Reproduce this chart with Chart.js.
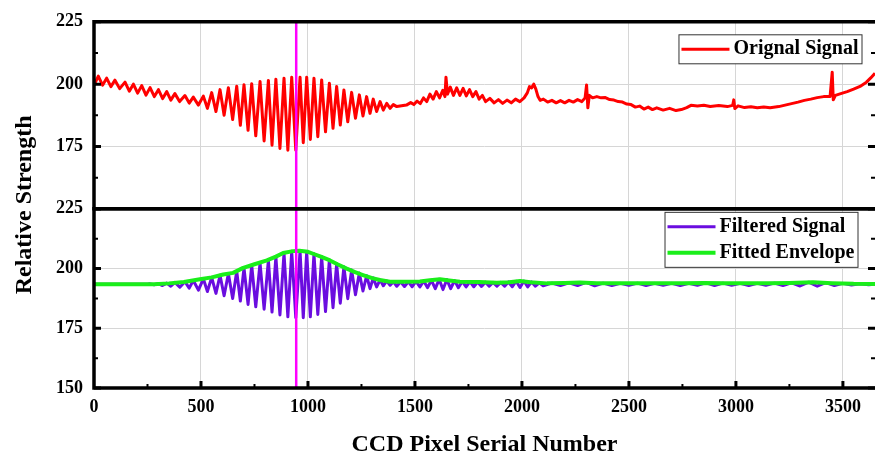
<!DOCTYPE html>
<html>
<head>
<meta charset="utf-8">
<script src="https://cdn.jsdelivr.net/npm/chart.js@4.4.1/dist/chart.umd.min.js"></script>
<style>
	html, body { margin: 0; padding: 0; background: #fff; }
</style>
</head>
<body>
<canvas id="signalChart" width="875" height="455"></canvas>
<script>
var FONT = '"Times New Roman", "Liberation Serif", serif';

// pixel serial number / relative strength
var originalX = [0, 20, 40, 59, 79, 98, 120, 145, 165, 184, 204, 223, 243, 262, 282, 301, 321, 340, 359, 378,
	400, 425, 445, 464, 488, 511, 530, 550, 570, 589, 608, 628, 648, 667, 684, 701, 720, 737, 756, 776,
	795, 815, 832, 850, 869, 888, 906, 924, 943, 963, 978, 994, 1011, 1028, 1046, 1064, 1082, 1100, 1117, 1134,
	1151, 1168, 1186, 1204, 1222, 1240, 1257, 1274, 1290, 1305, 1321, 1337, 1352, 1368, 1384, 1399, 1415,
	1430, 1460, 1480, 1495, 1510, 1525, 1540, 1555, 1570, 1585, 1600, 1615, 1630, 1640, 1645, 1652, 1665, 1680, 1695,
	1710, 1725, 1740, 1755, 1770, 1785, 1800, 1815, 1830, 1850, 1870, 1890, 1910, 1930, 1950, 1970, 1990, 2010, 2025,
	2035, 2045, 2055, 2065, 2075, 2085, 2100, 2120, 2140, 2160, 2180, 2200, 2220, 2240, 2260, 2280, 2295, 2302, 2308,
	2315, 2330, 2350, 2370, 2390, 2410, 2430, 2450, 2470, 2490, 2510, 2530, 2550, 2570, 2590, 2610, 2630, 2660, 2690,
	2720, 2745, 2770, 2790, 2820, 2850, 2880, 2920, 2960, 2985, 2990, 2995, 3010, 3040, 3070, 3100, 3130, 3160, 3200,
	3230, 3260, 3290, 3320, 3350, 3380, 3410, 3440, 3450, 3455, 3465, 3490, 3520, 3550, 3580, 3610, 3630, 3650];
var originalY = [199.5, 203.2, 199.6, 202.4, 199.0, 201.6, 198.2, 200.8, 197.2, 200.0, 196.4, 199.4, 195.6, 198.6, 195.0, 197.8, 194.2, 197.0, 193.6, 196.2,
	193.0, 195.4, 192.4, 194.8, 191.6, 195.2, 190.3, 196.6, 189.0, 197.8, 187.5, 198.6, 185.8, 199.2, 183.5, 199.8, 181.5, 200.2, 179.3, 201.1,
	177.2, 201.5, 175.5, 202.0, 174.2, 202.4, 173.5, 202.8, 173.5, 202.8, 176.5, 202.8, 177.8, 202.4, 178.9, 201.7, 180.9, 200.4, 182.3, 199.1,
	183.6, 197.7, 184.9, 196.7, 186.3, 195.7, 187.2, 195.0, 188.3, 194.0, 189.0, 193.0, 189.6, 192.3, 190.3, 191.8, 191.0,
	191.2, 191.6, 192.6, 191.8, 193.2, 192.2, 194.5, 193.0, 196.0, 194.0, 197.0, 194.5, 197.5, 195.0, 202.8, 196.0, 198.8, 195.5, 198.5,
	195.5, 198.3, 195.3, 197.8, 195.0, 197.0, 194.0, 195.5, 193.0, 194.3, 192.5, 193.8, 192.3, 193.6, 192.5, 194.0, 193.0, 194.5, 196.5,
	199.0, 198.5, 200.0, 198.0, 195.0, 193.5, 194.0, 192.8, 193.5, 192.5, 193.4, 192.5, 193.5, 192.8, 193.8, 193.0, 194.5, 199.7, 190.5,
	195.5, 194.5, 195.0, 194.5, 194.6, 193.8, 193.6, 193.0, 192.8, 192.0, 191.8, 190.8, 191.2, 190.0, 190.8, 189.8, 190.5, 189.6, 190.3,
	189.4, 189.8, 190.6, 191.5, 191.2, 191.5, 191.0, 191.4, 191.0, 191.5, 193.7, 190.2, 191.3, 190.6, 190.9, 190.5, 190.8, 190.5, 191.0,
	191.6, 192.2, 192.8, 193.5, 194.0, 194.6, 195.0, 195.0, 204.8, 193.7, 195.5, 196.2, 197.0, 198.0, 199.1, 200.8, 202.5, 204.4];

var filteredX = [0, 250, 262, 281, 301, 320, 340, 359, 378, 401, 425, 445, 464, 488, 511, 530, 550, 570, 589, 608,
	628, 648, 667, 684, 701, 720, 737, 756, 776, 795, 815, 832, 850, 869, 888, 906, 924, 943, 963, 978,
	994, 1011, 1028, 1046, 1064, 1082, 1100, 1117, 1134, 1151, 1168, 1186, 1204, 1222, 1240, 1257, 1274, 1290, 1305, 1321,
	1337, 1352, 1368, 1384, 1399, 1415, 1433, 1451, 1469, 1487, 1505, 1523, 1541, 1559, 1577, 1595, 1613, 1631, 1649, 1667,
	1685, 1703, 1721, 1739, 1757, 1775, 1793, 1811, 1829, 1847, 1865, 1883, 1901, 1919, 1937, 1955, 1973, 1991, 2009, 2027,
	2045, 2063, 2081, 2099, 2140, 2180, 2220, 2260, 2300, 2340, 2380, 2420, 2460, 2500, 2540, 2580, 2620, 2660, 2700, 2740,
	2780, 2820, 2860, 2900, 2940, 2980, 3020, 3060, 3100, 3140, 3180, 3220, 3260, 3300, 3340, 3380, 3420, 3460, 3500, 3540,
	3580, 3620, 3650];
var filteredY = [193.4, 193.4, 193.6, 193.2, 193.7, 192.9, 193.9, 192.6, 194.2, 192.2, 194.5, 191.8, 195.0, 191.0, 195.7, 190.4, 196.3, 189.6, 197.2, 188.6,
	197.9, 187.5, 198.9, 186.4, 200.3, 185.0, 201.4, 184.0, 202.4, 183.0, 203.5, 181.8, 205.0, 180.6, 206.5, 179.8, 207.2, 179.4, 207.5, 179.4,
	207.1, 179.8, 206.2, 180.8, 205.0, 182.0, 203.6, 183.6, 202.0, 185.5, 200.8, 187.4, 199.4, 189.0, 198.1, 190.6, 197.0, 191.6, 196.1, 192.3,
	195.3, 192.8, 194.8, 193.0, 194.5, 192.6, 194.5, 192.5, 194.5, 192.4, 194.6, 192.3, 194.8, 192.0, 195.1, 191.6, 195.5, 191.2, 195.4, 191.6,
	195.0, 192.0, 194.6, 192.3, 194.5, 192.4, 194.4, 192.5, 194.3, 192.6, 194.2, 192.6, 194.2, 192.6, 194.4, 192.4, 194.7, 192.1, 194.8, 192.3,
	194.4, 192.6, 194.0, 192.8, 193.9, 192.9, 194.0, 192.9, 194.2, 192.8, 193.9, 192.9, 193.8, 193.0, 193.9, 192.9, 193.8, 193.0, 193.8, 192.9,
	193.8, 193.0, 194.0, 192.9, 193.9, 193.0, 193.8, 192.9, 193.8, 193.0, 193.9, 192.9, 194.0, 192.7, 194.3, 192.6, 194.1, 192.9, 193.8, 193.1,
	193.6, 193.2, 193.4];

var envelopeX = [0, 280, 350, 420, 495, 550, 604, 650, 697, 750, 808, 850, 884, 930, 960, 1000, 1024, 1060, 1103, 1140,
	1181, 1220, 1257, 1300, 1336, 1383, 1450, 1523, 1570, 1617, 1660, 1710, 1800, 1883, 1940, 1991, 2040, 2117, 2200, 2271,
	2350, 2450, 2550, 2650, 2750, 2850, 2950, 3050, 3150, 3250, 3360, 3450, 3550, 3650];
var envelopeY = [193.4, 193.4, 193.8, 194.4, 195.5, 196.3, 197.5, 198.2, 200.3, 201.8, 203.4, 205.0, 206.5, 207.3, 207.5, 207.0, 206.2, 205.0, 203.4, 201.7,
	200.0, 198.5, 197.3, 196.0, 195.2, 194.5, 194.5, 194.6, 195.1, 195.5, 195.0, 194.5, 194.4, 194.1, 194.3, 194.8, 194.3, 193.8, 194.0, 194.2,
	193.9, 193.8, 193.9, 193.8, 193.8, 194.0, 193.9, 193.8, 193.9, 194.0, 194.3, 193.9, 193.6, 193.5];

var markerX = 945;
var xTicks = [0, 500, 1000, 1500, 2000, 2500, 3000, 3500];
var yTicks = [150, 175, 200, 225];
var seriesNames = ["Orignal Signal", "Filtered Signal", "Fitted Envelope"];
var xTitle = "CCD Pixel Serial Number";
var yTitle = "Relative Strength";

function toPoints(xs, ys) {
	return xs.map(function(x, i) { return {x: x, y: ys[i]}; });
}

function fixedTicks(values) {
	return function(scale) {
		scale.ticks = values.map(function(v) { return {value: v}; });
	};
}

// frames, inward ticks, marker line, boxed legends and axis titles
var panelDecor = {
	id: "panelDecor",
	afterDatasetsDraw: function(chart, args, opts) {
		var ctx = chart.ctx;
		var area = chart.chartArea;
		var xs = chart.scales.x;
		ctx.save();

		var mx = xs.getPixelForValue(markerX);
		ctx.strokeStyle = "#ff00ff";
		ctx.lineWidth = 2.5;
		ctx.beginPath();
		ctx.moveTo(mx, area.top);
		ctx.lineTo(mx, area.bottom);
		ctx.stroke();

		// the right-hand frame edge sits just past the picture, only its ticks show
		ctx.strokeStyle = "#000";
		["yTop", "yBottom"].forEach(function(id) {
			var s = chart.scales[id];
			for (var v = s.min; v <= s.max; v += 12.5) {
				var y = s.getPixelForValue(v);
				var major = v % 25 === 0;
				var len = major ? 7 : 4;
				ctx.lineWidth = major ? 3 : 2;
				ctx.beginPath();
				ctx.moveTo(area.left, y);
				ctx.lineTo(area.left + len, y);
				ctx.moveTo(area.right, y);
				ctx.lineTo(area.right - len, y);
				ctx.stroke();
			}
			ctx.lineWidth = 3.5;
			ctx.beginPath();
			ctx.moveTo(area.right + 2, s.top);
			ctx.lineTo(area.left, s.top);
			ctx.lineTo(area.left, s.bottom);
			ctx.lineTo(area.right + 2, s.bottom);
			ctx.stroke();
		});
		for (var v = 250; v < xs.max; v += 250) {
			var x = xs.getPixelForValue(v);
			var major = v % 500 === 0;
			ctx.lineWidth = major ? 3 : 2;
			ctx.beginPath();
			ctx.moveTo(x, area.bottom);
			ctx.lineTo(x, area.bottom - (major ? 7 : 4));
			ctx.stroke();
		}

		ctx.font = "bold 20px " + FONT;
		ctx.textBaseline = "middle";
		ctx.textAlign = "left";
		opts.legends.forEach(function(lg) {
			var s = chart.scales[lg.scale];
			var maxW = 0;
			lg.items.forEach(function(i) {
				maxW = Math.max(maxW, ctx.measureText(chart.data.datasets[i].label).width);
			});
			var w = 2.5 + 48 + 4 + maxW + 3.5;
			var h = lg.items.length * 26 + 3;
			var left = area.right - lg.right - w;
			var top = s.top + lg.top;
			ctx.fillStyle = "#fff";
			ctx.fillRect(left, top, w, h);
			ctx.strokeStyle = "#333";
			ctx.lineWidth = 1;
			ctx.strokeRect(left, top, w, h);
			lg.items.forEach(function(i, row) {
				var ds = chart.data.datasets[i];
				var cy = top + 14.5 + row * 26;
				ctx.strokeStyle = ds.borderColor;
				ctx.lineWidth = ds.borderWidth;
				ctx.beginPath();
				ctx.moveTo(left + 2.5, cy);
				ctx.lineTo(left + 50.5, cy);
				ctx.stroke();
				ctx.fillStyle = "#000";
				ctx.fillText(ds.label, left + 54.5, cy);
			});
		});

		ctx.font = "bold 24px " + FONT;
		ctx.fillStyle = "#000";
		ctx.textAlign = "center";
		ctx.textBaseline = "alphabetic";
		ctx.fillText(xTitle, (area.left + area.right) / 2, 451);
		ctx.translate(31, (area.top + area.bottom) / 2);
		ctx.rotate(-Math.PI / 2);
		ctx.fillText(yTitle, 0, 0);
		ctx.restore();
	}
};

var tickFont = {family: FONT, size: 18, weight: "bold"};
var gridStyle = {color: "#d6d6d6", lineWidth: 1, drawTicks: false};

new Chart(document.getElementById("signalChart"), {
	type: "line",
	data: {
		datasets: [{
			label: seriesNames[0],
			data: toPoints(originalX, originalY),
			yAxisID: "yTop",
			borderColor: "#ff0000",
			borderWidth: 3,
			order: 0
		}, {
			label: seriesNames[1],
			data: toPoints(filteredX, filteredY),
			yAxisID: "yBottom",
			borderColor: "#6a0ddf",
			borderWidth: 3,
			order: 2
		}, {
			label: seriesNames[2],
			data: toPoints(envelopeX, envelopeY),
			yAxisID: "yBottom",
			borderColor: "#1aee1a",
			borderWidth: 4,
			order: 1
		}]
	},
	options: {
		responsive: false,
		animation: false,
		events: [],
		layout: {padding: {top: 17, right: 0, bottom: 0, left: 0}},
		elements: {
			point: {radius: 0},
			line: {tension: 0, borderJoinStyle: "round"}
		},
		scales: {
			x: {
				type: "linear",
				min: 0,
				max: 3650,
				afterBuildTicks: fixedTicks(xTicks),
				ticks: {
					color: "#000", font: tickFont, padding: 9, maxRotation: 0, autoSkip: false,
					callback: function(v) { return String(v); }
				},
				grid: gridStyle,
				border: {display: false},
				afterFit: function(s) { s.height = 67; }
			},
			// left-hand stacked boxes are laid out in reverse, so the bottom panel comes first
			yBottom: {
				type: "linear",
				position: "left",
				stack: "panels",
				stackWeight: 1,
				min: 150,
				max: 225,
				afterBuildTicks: fixedTicks(yTicks),
				ticks: {color: "#000", font: tickFont, padding: 11, callback: function(v) { return String(v); }},
				grid: gridStyle,
				border: {display: false},
				afterFit: function(s) { s.width = 94; }
			},
			yTop: {
				type: "linear",
				position: "left",
				stack: "panels",
				stackWeight: 1.044,
				min: 150,
				max: 225,
				afterBuildTicks: fixedTicks(yTicks),
				ticks: {
					color: "#000", font: tickFont, padding: 11,
					callback: function(v) { return v === 150 ? "" : String(v); }
				},
				grid: gridStyle,
				border: {display: false},
				afterFit: function(s) { s.width = 94; }
			}
		},
		plugins: {
			legend: {display: false},
			tooltip: {enabled: false},
			panelDecor: {
				legends: [
					{scale: "yTop", items: [0], right: 13, top: 13},
					{scale: "yBottom", items: [1, 2], right: 17, top: 3.5}
				]
			}
		}
	},
	plugins: [panelDecor]
});
</script>
</body>
</html>
